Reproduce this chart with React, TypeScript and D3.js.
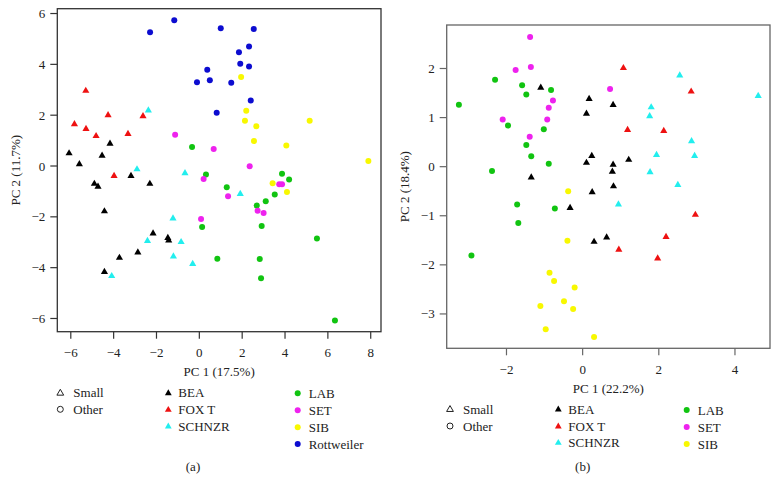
import React from "react";
import * as d3 from "d3";

type P = [number, number];

// Panel (a) data: PC1, PC2
const aBEA: P[] = [[-6.08,0.50],[-5.60,0.07],[-4.54,0.41],[-4.17,0.88],[-3.19,-0.39],[-2.31,-0.70],[-4.90,-0.70],[-4.73,-0.81],[-4.43,-1.78],[-2.16,-2.65],[-1.47,-2.83],[-1.43,-2.93],[-2.87,-3.40],[-3.73,-3.61],[-4.43,-4.17]];
const aFOX: P[] = [[-5.30,2.96],[-5.83,1.65],[-5.29,1.46],[-4.82,1.18],[-4.26,2.0],[-3.33,1.26],[-2.63,1.96],[-3.98,-0.39]];
const aSCH: P[] = [[-2.38,2.19],[-2.91,-0.13],[-0.67,-0.28],[-1.23,-2.06],[-2.42,-2.95],[-0.85,-2.99],[-1.21,-3.56],[-0.31,-3.85],[-4.09,-4.33],[1.91,-1.10]];
const aLAB: P[] = [[-0.34,0.75],[0.31,-0.33],[3.86,-0.30],[4.19,-0.53],[1.28,-0.84],[3.52,-1.12],[3.10,-1.39],[2.68,-1.55],[2.91,-2.36],[0.13,-2.40],[5.49,-2.85],[0.84,-3.65],[2.82,-3.66],[2.88,-4.42],[6.33,-6.08]];
const aSET: P[] = [[-1.13,1.23],[0.67,0.67],[2.35,-0.01],[0.20,-0.51],[1.34,-1.19],[3.73,-0.72],[3.86,-0.72],[2.72,-1.76],[3.0,-1.85],[0.08,-2.09]];
const aSIB: P[] = [[1.95,3.50],[2.19,2.17],[2.13,1.78],[2.66,1.56],[5.15,1.78],[2.55,0.98],[4.06,0.81],[7.89,0.20],[3.42,-0.68],[4.09,-1.02]];
const aROT: P[] = [[-2.30,5.26],[-1.17,5.74],[1.0,5.42],[2.54,5.39],[2.32,4.70],[1.85,4.48],[1.91,4.02],[2.32,3.92],[0.37,3.79],[-0.11,3.30],[0.49,3.37],[1.49,3.28],[2.40,2.58],[0.81,2.10]];

// Panel (b) data
const bBEA: P[] = [[-1.10,1.61],[0.17,1.38],[0.10,1.08],[0.80,1.26],[0.24,0.22],[0.10,0.08],[0.80,0.04],[1.21,0.14],[0.78,-0.10],[0.81,-0.40],[0.25,-0.52],[0.63,-1.44],[0.30,-1.53],[-1.35,-0.22],[-0.33,-0.84]];
const bFOX: P[] = [[1.07,2.01],[2.85,1.53],[1.18,0.75],[2.13,0.73],[2.96,-0.98],[2.19,-1.43],[0.95,-1.69],[1.97,-1.87]];
const bSCH: P[] = [[2.55,1.86],[4.61,1.44],[1.80,1.21],[1.76,1.03],[2.86,0.52],[1.94,0.24],[2.94,0.22],[1.77,-0.11],[2.50,-0.37],[0.94,-0.77]];
const bLAB: P[] = [[-2.30,1.77],[-1.59,1.66],[-1.48,1.47],[-0.83,1.56],[-3.25,1.26],[-1.96,0.84],[-1.02,0.76],[-1.48,0.44],[-1.35,0.21],[-0.89,0.06],[-2.38,-0.09],[-1.72,-0.77],[-0.73,-0.85],[-1.69,-1.15],[-2.92,-1.81]];
const bSET: P[] = [[-1.38,2.64],[-1.76,1.97],[-1.36,2.03],[-0.78,1.35],[-0.89,1.20],[-2.10,0.96],[-0.93,0.96],[-1.39,0.61],[0.72,1.58]];
const bSIB: P[] = [[-0.38,-0.50],[-0.40,-1.51],[-0.87,-2.16],[-0.75,-2.33],[-0.21,-2.46],[-1.11,-2.84],[-0.49,-2.74],[-0.25,-2.90],[-0.97,-3.31],[0.30,-3.47]];

const aXTicks = [-6, -4, -2, 0, 2, 4, 6, 8];
const aYTicks = [-6, -4, -2, 0, 2, 4, 6];
const bXTicks = [-2, 0, 2, 4];
const bYTicks = [-3, -2, -1, 0, 1, 2];

const C = {
  BEA: "#000000",
  FOX: "#ee1111",
  SCH: "#22eeee",
  LAB: "#11c411",
  SET: "#ee22ee",
  SIB: "#f8f800",
  ROT: "#0c0cd0",
};

const FONT = "'Liberation Serif', 'DejaVu Serif', serif";
const fmt = (v: number) => (v < 0 ? "\u2212" + Math.abs(v) : String(v));
const tri = d3.symbol().type(d3.symbolTriangle).size(22)() as string;
const triLeg = d3.symbol().type(d3.symbolTriangle).size(20)() as string;

type Series = { pts: P[]; color: string; shape: "t" | "c" };

function Panel(props: {
  x0: number; x1: number; y0: number; y1: number;
  xd: [number, number]; yd: [number, number];
  xt: number[]; yt: number[];
  xlab: string; ylab: string; frame: string;
  series: Series[];
}) {
  const { x0, x1, y0, y1, xd, yd, xt, yt, xlab, ylab, frame, series } = props;
  const x = d3.scaleLinear().domain(xd).range([x0, x1]);
  const y = d3.scaleLinear().domain(yd).range([y1, y0]);
  return (
    <g>
      <rect x={x0} y={y0} width={x1 - x0} height={y1 - y0} fill="none" stroke={frame} strokeWidth={1.3} />
      {xt.map((t) => (
        <g key={"x" + t}>
          <line x1={x(t)} x2={x(t)} y1={y1} y2={y1 + 7} stroke={frame} strokeWidth={1.2} />
          <text x={x(t)} y={y1 + 21} textAnchor="middle" dominantBaseline="central" fontSize={13} fill="#222">{fmt(t)}</text>
        </g>
      ))}
      {yt.map((t) => (
        <g key={"y" + t}>
          <line x1={x0 - 7} x2={x0} y1={y(t)} y2={y(t)} stroke={frame} strokeWidth={1.2} />
          <text x={x0 - 12} y={y(t)} textAnchor="end" dominantBaseline="central" fontSize={13} fill="#222">{fmt(t)}</text>
        </g>
      ))}
      <text x={(x0 + x1) / 2} y={y1 + 40} textAnchor="middle" dominantBaseline="central" fontSize={13} fill="#222">{xlab}</text>
      <text transform={`translate(${x0 - 42},${(y0 + y1) / 2}) rotate(-90)`} textAnchor="middle" dominantBaseline="central" fontSize={13} fill="#222">{ylab}</text>
      {series.map((s, i) =>
        s.pts.map((p, j) =>
          s.shape === "t" ? (
            <path key={i + "-" + j} d={tri} transform={`translate(${x(p[0])},${y(p[1])})`} fill={s.color} />
          ) : (
            <circle key={i + "-" + j} cx={x(p[0])} cy={y(p[1])} r={3} fill={s.color} />
          )
        )
      )}
    </g>
  );
}

function Legend(props: {
  sx: number; bx: number; lx: number; ry: number[]; ly: number[]; circles: { label: string; color: string }[];
}) {
  const { sx, bx, lx, ry, ly, circles } = props;
  const tris = [
    { label: "BEA", color: C.BEA },
    { label: "FOX T", color: C.FOX },
    { label: "SCHNZR", color: C.SCH },
  ];
  return (
    <g fontSize={13} fill="#222">
      <path d={triLeg} transform={`translate(${sx},${ry[0] + 0.5})`} fill="none" stroke="#222" strokeWidth={1} />
      <text x={sx + 13} y={ry[0]} dominantBaseline="central">Small</text>
      <circle cx={sx} cy={ry[1]} r={3} fill="none" stroke="#222" strokeWidth={1} />
      <text x={sx + 13} y={ry[1]} dominantBaseline="central">Other</text>
      {tris.map((t, i) => (
        <g key={t.label}>
          <path d={triLeg} transform={`translate(${bx},${ry[i] + 0.5})`} fill={t.color} />
          <text x={bx + 10} y={ry[i]} dominantBaseline="central">{t.label}</text>
        </g>
      ))}
      {circles.map((c, i) => (
        <g key={c.label}>
          <circle cx={lx} cy={ly[i]} r={3} fill={c.color} />
          <text x={lx + 11} y={ly[i]} dominantBaseline="central">{c.label}</text>
        </g>
      ))}
    </g>
  );
}

export default function App() {
  const seriesA: Series[] = [
    { pts: aBEA, color: C.BEA, shape: "t" },
    { pts: aFOX, color: C.FOX, shape: "t" },
    { pts: aSCH, color: C.SCH, shape: "t" },
    { pts: aLAB, color: C.LAB, shape: "c" },
    { pts: aSET, color: C.SET, shape: "c" },
    { pts: aSIB, color: C.SIB, shape: "c" },
    { pts: aROT, color: C.ROT, shape: "c" },
  ];
  const seriesB: Series[] = [
    { pts: bBEA, color: C.BEA, shape: "t" },
    { pts: bFOX, color: C.FOX, shape: "t" },
    { pts: bSCH, color: C.SCH, shape: "t" },
    { pts: bLAB, color: C.LAB, shape: "c" },
    { pts: bSET, color: C.SET, shape: "c" },
    { pts: bSIB, color: C.SIB, shape: "c" },
  ];
  return (
    <svg width={779} height={492} style={{ position: "absolute", left: 0, top: 0, background: "#fff" }} fontFamily={FONT}>
      <rect width={779} height={492} fill="#fff" />
      <Panel x0={57.3} x1={381} y0={8.7} y1={331.7} xd={[-6.63, 8.48]} yd={[-6.52, 6.19]}
        xt={aXTicks} yt={aYTicks} xlab="PC 1 (17.5%)" ylab="PC 2 (11.7%)" frame="#333" series={seriesA} />
      <Panel x0={446.7} x1={770} y0={25} y1={348.3} xd={[-3.57, 4.92]} yd={[-3.70, 2.886]}
        xt={bXTicks} yt={bYTicks} xlab="PC 1 (22.2%)" ylab="PC 2 (18.4%)" frame="#666" series={seriesB} />
      <Legend sx={60.3} bx={168.3} lx={297.7} ry={[392.7, 409.3, 426]} ly={[393.3, 410.3, 427.3, 444]}
        circles={[
          { label: "LAB", color: C.LAB },
          { label: "SET", color: C.SET },
          { label: "SIB", color: C.SIB },
          { label: "Rottweiler", color: C.ROT },
        ]} />
      <Legend sx={450} bx={558.3} lx={686.7} ry={[409, 426, 442.3]} ly={[410, 427, 444]}
        circles={[
          { label: "LAB", color: C.LAB },
          { label: "SET", color: C.SET },
          { label: "SIB", color: C.SIB },
        ]} />
      <text x={193} y={466.5} textAnchor="middle" dominantBaseline="central" fontSize={13} fill="#222">(a)</text>
      <text x={582.7} y={466} textAnchor="middle" dominantBaseline="central" fontSize={13} fill="#222">(b)</text>
    </svg>
  );
}
